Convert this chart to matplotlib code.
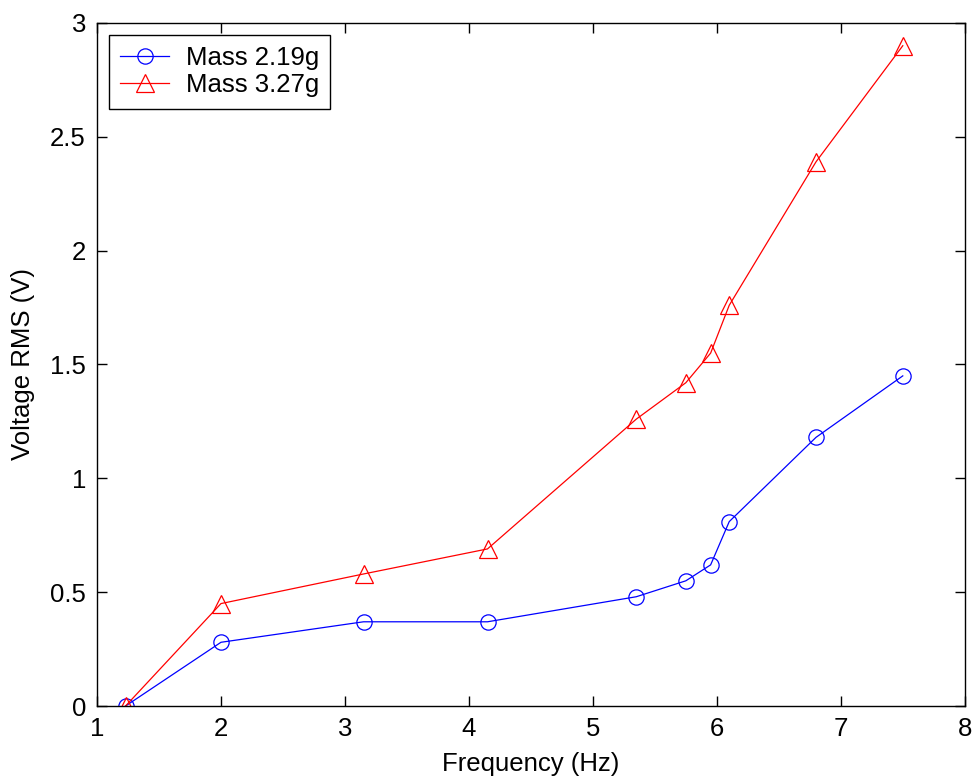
import matplotlib
matplotlib.use("Agg")
import matplotlib.pyplot as plt

plt.rcParams['font.family'] = ['Liberation Sans', 'DejaVu Sans']

# frequency (Hz) and RMS voltage (V) for the two masses
freq = [1.23, 2.0, 3.15, 4.15, 5.35, 5.75, 5.95, 6.1, 6.8, 7.5]
v_219 = [0.0, 0.28, 0.37, 0.37, 0.48, 0.55, 0.62, 0.81, 1.18, 1.45]
v_327 = [0.0, 0.45, 0.58, 0.69, 1.26, 1.42, 1.55, 1.76, 2.39, 2.9]

fig = plt.figure(figsize=(9.75, 7.78), dpi=100)
ax = fig.add_axes([0.0995, 0.0925, 0.89, 0.878])

ax.plot(freq, v_219, color='blue', lw=0.9, marker='o', ms=11,
        mfc='none', mec='blue', mew=0.9, label='Mass 2.19g')
ax.plot(freq, v_327, color='red', lw=0.9, marker='^', ms=13,
        mfc='none', mec='red', mew=0.9, label='Mass 3.27g')

ax.set_xlim(1, 8)
ax.set_ylim(0, 3)
ax.set_xticks(range(1, 9))
ax.set_yticks([0, 0.5, 1, 1.5, 2, 2.5, 3])
ax.set_yticklabels(['0', '0.5', '1', '1.5', '2', '2.5', '3'])
ax.tick_params(direction='in', top=True, right=True, labelsize=18.5,
               length=7, width=1, pad=8)
for s in ax.spines.values():
    s.set_linewidth(1)

ax.set_xlabel('Frequency (Hz)', fontsize=18.5, labelpad=8)
ax.set_ylabel('Voltage RMS (V)', fontsize=18.5, labelpad=11)

leg = ax.legend(loc='upper left', fontsize=18.5, fancybox=False,
                edgecolor='black', framealpha=1, borderaxespad=0.45,
                handlelength=1.9, handletextpad=0.65, borderpad=0.45,
                labelspacing=0.12)
leg.get_frame().set_linewidth(1)

fig.savefig('out.png', dpi=100)
